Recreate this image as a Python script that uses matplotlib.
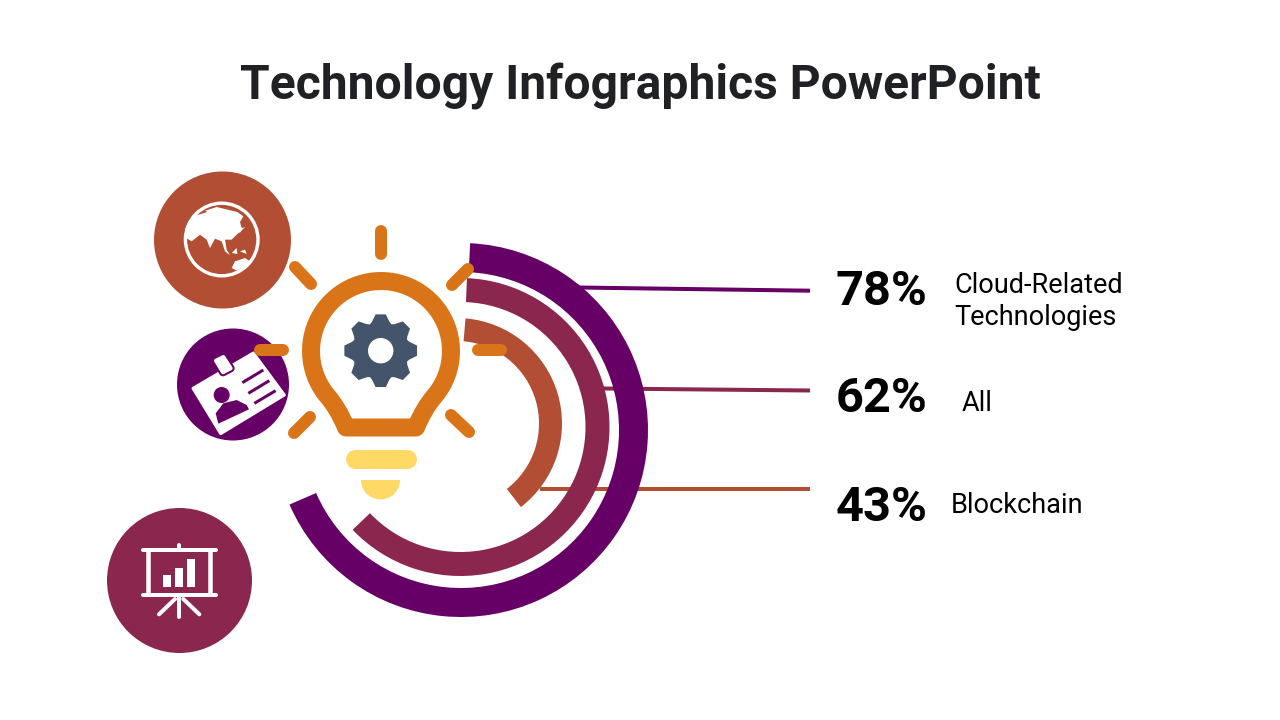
import numpy as np
import matplotlib
matplotlib.use('Agg')
import matplotlib.pyplot as plt
from matplotlib.patches import Circle, Wedge, Polygon, PathPatch, Rectangle
from matplotlib.path import Path

title = 'Technology Infographics PowerPoint'
percents = [78, 62, 43]
labels = [['Cloud-Related', 'Technologies'], ['All'], ['Blockchain']]

# arc sweeps as drawn in the picture, degrees clockwise from 12 o'clock
arc_start = [2.8, 2.5, 4.9]
arc_end = [246.5, 226.4, 142.4]

purple = '#660066'
maroon = '#8B264E'
rust = '#B24E33'
orange = '#DA7418'
yellow = '#FFD966'
slate = '#44546A'
arc_colors = [purple, maroon, rust]

plt.rcParams['font.family'] = ['Roboto', 'DejaVu Sans']

fig = plt.figure(figsize=(12.8, 7.2), dpi=100)
ax = fig.add_axes([0, 0, 1, 1])
ax.set_xlim(0, 1280)
ax.set_ylim(720, 0)
ax.axis('off')

PX = 0.72  # one pixel in points


def stroke(pts, color, width, z=5, cap='round'):
    pts = np.array(pts, dtype=float)
    ax.plot(pts[:, 0], pts[:, 1], color=color, lw=width * PX, solid_capstyle=cap,
            solid_joinstyle='round', zorder=z)


# crops were read at 3x, so the icons are written in crop coordinates
def crop(pts, x0, y0):
    return np.array(pts, dtype=float) / 3 + [x0, y0]


def globe(pts):
    return crop(pts, 180, 198)


def badge(pts):
    return crop(pts, 185, 345)


def board(pts):
    return crop(pts, 100, 500)


ax.text(640.5, 99, title, ha='center', va='baseline', fontsize=34.6, fontweight='bold', color='#202124')

# arcs
arc_center = [(461, 430), (460.5, 427), (456.5, 423.5)]
arc_outer = [187, 149, 105.5]
arc_width = [29, 24, 23]
for i in range(3):
    ax.add_patch(Wedge(arc_center[i], arc_outer[i], arc_start[i] - 90, arc_end[i] - 90,
                       width=arc_width[i], fc=arc_colors[i], ec='none', zorder=3))

# connectors
stroke([(578, 287.5), (810, 290.7)], purple, 4, z=2, cap='butt')
stroke([(603, 388.5), (810, 390.5)], maroon, 4, z=2, cap='butt')
stroke([(540, 489), (810, 489)], rust, 4, z=2, cap='butt')

# right hand text
pct_base = [305, 412, 521]
label_x = [954.5, 962, 950.5]
label_base = [[292.7, 325], [411], [513]]
for i in range(3):
    ax.text(835.5, pct_base[i], '%d%%' % percents[i], fontsize=35.1, fontweight='bold', color='black',
            ha='left', va='baseline')
    for line, y in zip(labels[i], label_base[i]):
        ax.text(label_x[i], y, line, fontsize=19.5, color='black', ha='left', va='baseline')

# big circles
ax.add_patch(Circle((222.5, 240), 68.5, fc=rust, ec='none', zorder=3))
ax.add_patch(Circle((233, 384.5), 56, fc=purple, ec='none', zorder=3))
ax.add_patch(Circle((179.5, 580.5), 72.5, fc=maroon, ec='none', zorder=3))

# globe
ax.add_patch(Circle((221.7, 239.5), 36.3, fc='none', ec='white', lw=3.4 * PX, zorder=4))
asia = [(75, 38), (110, 27), (172, 42), (190, 55), (180, 72), (185, 90), (195, 88), (172, 108),
        (155, 125), (135, 125), (140, 155), (150, 172), (135, 160), (125, 130), (105, 122), (90, 150),
        (80, 125), (60, 110), (35, 130), (15, 118), (18, 85), (40, 55), (82, 42)]
islands = [[(172, 102), (190, 90), (180, 104)],
           [(155, 165), (170, 150), (172, 168)],
           [(180, 160), (195, 155), (200, 168)],
           [(155, 210), (165, 190), (195, 180), (210, 190), (195, 205), (170, 218)]]
ax.add_patch(Polygon(globe(asia), fc='white', ec='none', zorder=4))
for isl in islands:
    ax.add_patch(Polygon(globe(isl), fc='white', ec='none', zorder=4))

# id card
card = [(24, 130), (205, 24), (298, 150), (107, 266)]
ax.add_patch(Polygon(badge(card), fc='white', ec='white', lw=3 * PX, joinstyle='round', zorder=4))
clip = [(93, 47), (115, 36), (137, 70), (114, 82)]
ax.add_patch(Polygon(badge(clip), fc=purple, ec=purple, lw=8 * PX, joinstyle='round', zorder=4))
ax.add_patch(Polygon(badge(clip), fc='white', ec='white', lw=4 * PX, joinstyle='round', zorder=4))
ax.add_patch(Circle(badge([(110, 150)])[0], 8, fc=purple, ec='none', zorder=5))
body = [(100, 236), (92, 205), (115, 175), (155, 165), (185, 180), (192, 193)]
ax.add_patch(Polygon(badge(body), fc=purple, ec='none', zorder=5))
stroke(badge([(172, 113), (235, 75)]), purple, 3, cap='butt')
stroke(badge([(190, 145), (253, 107)]), purple, 3, cap='butt')
stroke(badge([(208, 175), (272, 137)]), purple, 3, cap='butt')

# presentation board
stroke(board([(128, 150), (347, 150)]), 'white', 4)
stroke(board([(128, 285), (347, 285)]), 'white', 4)
stroke(board([(237, 135), (237, 150)]), 'white', 4)
stroke(board([(144, 150), (144, 285)]), 'white', 4.5, cap='butt')
stroke(board([(330, 150), (330, 285)]), 'white', 4.5, cap='butt')
stroke(board([(237, 285), (237, 352)]), 'white', 4)
stroke(board([(225, 297), (177, 343)]), 'white', 4)
stroke(board([(250, 297), (298, 343)]), 'white', 4)
for x0, x1, y0 in [(190, 212, 225), (225, 249, 205), (262, 285, 178)]:
    xy = board([(x0, y0), (x1, 261)])
    ax.add_patch(Rectangle(xy[0], xy[1, 0] - xy[0, 0], xy[1, 1] - xy[0, 1], fc='white', ec='none', zorder=5))

# bulb outline
bx, by, br = 381, 351, 70
a = np.radians(np.linspace(140, 400, 60))
arc_x = bx + br * np.cos(a)
arc_y = by + br * np.sin(a)
verts = [(346, 427.5), (338, 408), (arc_x[0], arc_y[0])]
codes = [Path.MOVETO, Path.CURVE3, Path.CURVE3]
for x, y in zip(arc_x[1:], arc_y[1:]):
    verts.append((x, y))
    codes.append(Path.LINETO)
verts += [(424, 408), (416, 427.5), (346, 427.5), (346, 427.5)]
codes += [Path.CURVE3, Path.CURVE3, Path.LINETO, Path.CLOSEPOLY]
ax.add_patch(PathPatch(Path(verts, codes), fc='none', ec=orange, lw=18 * PX, joinstyle='round', zorder=6))

# rays
rays = [[(381, 231), (381, 254)], [(295, 267), (311, 284)], [(452, 285), (468, 269)],
        [(260, 350.3), (283, 350.3)], [(478.3, 350), (501, 350)],
        [(294, 433), (310, 417)], [(451, 415), (469, 432)]]
for r in rays:
    stroke(r, orange, 12, z=6)

# base of the bulb
stroke([(354.5, 458.5), (406.5, 458.5)], yellow, 19, z=6)
ax.add_patch(Wedge((380.5, 480), 19.5, 0, 180, fc=yellow, ec='none', zorder=6))

# gear
n_teeth = 8
gear = []
for k in range(n_teeth):
    c = 2 * np.pi * k / n_teeth
    for off, rad in [(-0.30, 30), (-0.14, 36.7), (0.14, 36.7), (0.30, 30), (0.39, 28.5)]:
        gear.append((380.7 + rad * np.cos(c + off), 350.7 + rad * np.sin(c + off)))
ax.add_patch(Polygon(gear, fc=slate, ec='none', zorder=6))
ax.add_patch(Circle((380.7, 350.7), 12.7, fc='white', ec='none', zorder=7))

fig.savefig('out.png', dpi=100, facecolor='white')
